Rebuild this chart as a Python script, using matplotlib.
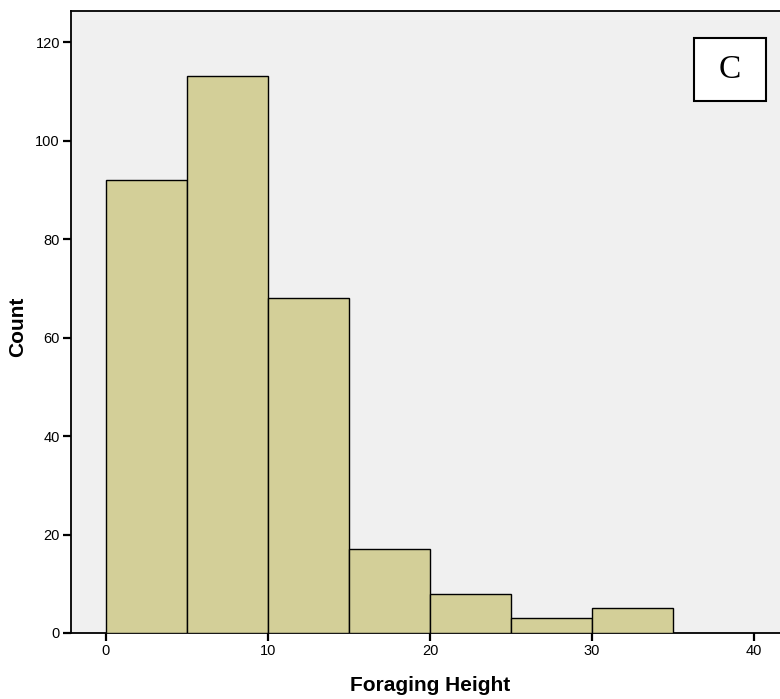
import matplotlib
matplotlib.use("Agg")
import matplotlib.pyplot as plt
from matplotlib.patches import Rectangle

plt.rcParams["font.family"] = ["Liberation Sans", "DejaVu Sans"]

# histogram bins (Foraging Height) and counts
bin_left = [0, 5, 10, 15, 20, 25, 30]
bin_width = 5
counts = [92, 113, 68, 17, 8, 3, 5]
xticks = [0, 10, 20, 30, 40]
yticks = [0, 20, 40, 60, 80, 100, 120]

BAR_C = "#d3cf98"
BG_C = "#f0f0f0"

fig = plt.figure(figsize=(7.8, 6.99), dpi=100)
ax = fig.add_axes([71 / 780, 66 / 699, 709 / 780, 622 / 699])
ax.set_facecolor(BG_C)

ax.bar(bin_left, counts, width=bin_width, align="edge", color=BAR_C,
       edgecolor="black", linewidth=1.0, zorder=3)

ax.set_xlim(-2.16, 41.6)
ax.set_ylim(0, 126.3)
ax.set_xticks(xticks)
ax.set_yticks(yticks)
ax.tick_params(direction="out", length=6, width=1.6, labelsize=10.5, pad=2, colors="black")
for s in ["left", "bottom", "top"]:
    ax.spines[s].set_linewidth(1.3)
ax.spines["right"].set_visible(False)

ax.set_xlabel("Foraging Height", fontsize=15, fontweight="bold")
ax.set_ylabel("Count", fontsize=15, fontweight="bold")
ax.xaxis.set_label_coords(0.506, -0.0852)
ax.xaxis.label.set_va("center")
ax.yaxis.set_label_coords(-0.0748, 0.492)
ax.yaxis.label.set_va("center")

# panel label box
ax.add_patch(Rectangle((0.8787, 0.8553), 0.1016, 0.1013, transform=ax.transAxes,
                       facecolor="white", edgecolor="black", linewidth=1.5, zorder=5))
ax.text(0.9295, 0.906, "C", transform=ax.transAxes, ha="center", va="center",
        fontsize=24, family=["Liberation Serif", "DejaVu Serif"], zorder=6)

fig.savefig("out.png", dpi=100, facecolor="white")
